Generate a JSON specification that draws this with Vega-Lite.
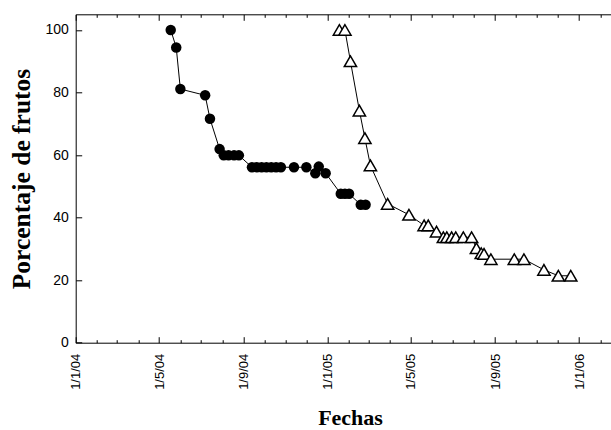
{
  "$schema": "https://vega.github.io/schema/vega-lite/v6.json",
  "width": 535,
  "height": 328.4,
  "autosize": "none",
  "padding": {"left": 75.7, "top": 14.3, "right": 0.3, "bottom": 87.3},
  "background": "white",
  "view": {"stroke": null},
  "config": {
    "axis": {"grid": false, "domainColor": "black", "tickColor": "black", "labelColor": "black", "titleColor": "black", "domainWidth": 1, "tickWidth": 1}
  },
  "data": {
    "values": [
      {"serie": "A", "fecha": "2004/05/18", "pct": 100},
      {"serie": "A", "fecha": "2004/05/26", "pct": 94.4},
      {"serie": "A", "fecha": "2004/06/01", "pct": 81.1},
      {"serie": "A", "fecha": "2004/07/07", "pct": 79.1},
      {"serie": "A", "fecha": "2004/07/14", "pct": 71.6},
      {"serie": "A", "fecha": "2004/07/28", "pct": 61.9},
      {"serie": "A", "fecha": "2004/08/03", "pct": 59.9},
      {"serie": "A", "fecha": "2004/08/10", "pct": 59.9},
      {"serie": "A", "fecha": "2004/08/18", "pct": 59.9},
      {"serie": "A", "fecha": "2004/08/25", "pct": 59.9},
      {"serie": "A", "fecha": "2004/09/13", "pct": 56.1},
      {"serie": "A", "fecha": "2004/09/20", "pct": 56.1},
      {"serie": "A", "fecha": "2004/09/27", "pct": 56.1},
      {"serie": "A", "fecha": "2004/10/04", "pct": 56.1},
      {"serie": "A", "fecha": "2004/10/11", "pct": 56.1},
      {"serie": "A", "fecha": "2004/10/18", "pct": 56.1},
      {"serie": "A", "fecha": "2004/10/25", "pct": 56.1},
      {"serie": "A", "fecha": "2004/11/13", "pct": 56.1},
      {"serie": "A", "fecha": "2004/12/01", "pct": 56.1},
      {"serie": "A", "fecha": "2004/12/14", "pct": 54.2},
      {"serie": "A", "fecha": "2004/12/19", "pct": 56.3},
      {"serie": "A", "fecha": "2004/12/29", "pct": 54.2},
      {"serie": "A", "fecha": "2005/01/20", "pct": 47.6},
      {"serie": "A", "fecha": "2005/01/26", "pct": 47.6},
      {"serie": "A", "fecha": "2005/02/01", "pct": 47.6},
      {"serie": "A", "fecha": "2005/02/18", "pct": 44.1},
      {"serie": "A", "fecha": "2005/02/25", "pct": 44.1},
      {"serie": "B", "fecha": "2005/01/18", "pct": 100},
      {"serie": "B", "fecha": "2005/01/26", "pct": 100},
      {"serie": "B", "fecha": "2005/02/03", "pct": 90},
      {"serie": "B", "fecha": "2005/02/16", "pct": 74.2},
      {"serie": "B", "fecha": "2005/02/24", "pct": 65.4},
      {"serie": "B", "fecha": "2005/03/04", "pct": 56.7},
      {"serie": "B", "fecha": "2005/03/29", "pct": 44.4},
      {"serie": "B", "fecha": "2005/04/29", "pct": 40.9},
      {"serie": "B", "fecha": "2005/05/21", "pct": 37.5},
      {"serie": "B", "fecha": "2005/05/27", "pct": 37.5},
      {"serie": "B", "fecha": "2005/06/08", "pct": 35.5},
      {"serie": "B", "fecha": "2005/06/18", "pct": 33.7},
      {"serie": "B", "fecha": "2005/06/23", "pct": 33.7},
      {"serie": "B", "fecha": "2005/06/30", "pct": 33.7},
      {"serie": "B", "fecha": "2005/07/06", "pct": 33.7},
      {"serie": "B", "fecha": "2005/07/17", "pct": 33.7},
      {"serie": "B", "fecha": "2005/07/29", "pct": 33.7},
      {"serie": "B", "fecha": "2005/08/05", "pct": 30.2},
      {"serie": "B", "fecha": "2005/08/12", "pct": 28.6},
      {"serie": "B", "fecha": "2005/08/16", "pct": 28.4},
      {"serie": "B", "fecha": "2005/08/26", "pct": 26.7},
      {"serie": "B", "fecha": "2005/09/29", "pct": 26.7},
      {"serie": "B", "fecha": "2005/10/13", "pct": 26.7},
      {"serie": "B", "fecha": "2005/11/11", "pct": 23.3},
      {"serie": "B", "fecha": "2005/12/02", "pct": 21.4},
      {"serie": "B", "fecha": "2005/12/20", "pct": 21.4}
    ]
  },
  "layer": [
    {
      "mark": {"type": "line", "color": "black", "strokeWidth": 1},
      "encoding": {
        "x": {
          "field": "fecha", "type": "temporal",
          "scale": {"domain": [{"year": 2004, "month": 1, "date": 1}, {"year": 2006, "month": 2, "date": 16}], "nice": false},
          "axis": {
            "orient": "bottom",
            "tickCount": {"interval": "month", "step": 1},
            "labelExpr": "month(datum.value) % 4 == 0 ? timeFormat(datum.value, '%-d/%-m/%y') : ''",
            "tickSize": {"condition": {"test": "month(datum.value) % 4 == 0", "value": -6}, "value": -3},
            "labelAngle": 270, "labelAlign": "right", "labelBaseline": "middle",
            "labelPadding": 16.5, "labelOverlap": false, "labelFlush": false,
            "labelFont": "Liberation Sans", "labelFontSize": 13,
            "title": "Fechas", "titleFont": "Liberation Serif", "titleFontSize": 22, "titleFontWeight": "bold",
            "titleX": 274.3, "titleY": 81.5, "titleBaseline": "alphabetic"
          }
        },
        "y": {
          "field": "pct", "type": "quantitative",
          "scale": {"domain": [0, 105], "nice": false},
          "axis": {
            "orient": "left",
            "values": [0, 20, 40, 60, 80, 100],
            "tickSize": -6, "labelPadding": 13.4,
            "labelFont": "Liberation Sans", "labelFontSize": 14,
            "title": "Porcentaje de frutos", "titleFont": "Liberation Serif", "titleFontSize": 25.5, "titleFontWeight": "bold",
            "titleX": -54, "titleBaseline": "middle"
          }
        },
        "detail": {"field": "serie"}
      }
    },
    {
      "transform": [{"filter": "datum.serie == 'A'"}],
      "mark": {"type": "point", "shape": "circle", "filled": true, "color": "black", "size": 110, "opacity": 1},
      "encoding": {
        "x": {
          "field": "fecha", "type": "temporal",
          "axis": {
            "orient": "top", "labels": false, "title": null,
            "tickCount": {"interval": "month", "step": 1},
            "tickSize": {"condition": {"test": "month(datum.value) % 4 == 0", "value": -6}, "value": -3}
          }
        },
        "y": {"field": "pct", "type": "quantitative", "axis": null}
      }
    },
    {
      "transform": [{"filter": "datum.serie == 'B'"}],
      "mark": {"type": "point", "shape": "triangle-up", "fill": "white", "stroke": "black", "strokeWidth": 1.5, "size": 150, "opacity": 1, "fillOpacity": 1},
      "encoding": {
        "x": {"field": "fecha", "type": "temporal", "axis": null},
        "y": {"field": "pct", "type": "quantitative", "axis": null}
      }
    }
  ],
  "resolve": {"axis": {"x": "independent", "y": "independent"}}
}
